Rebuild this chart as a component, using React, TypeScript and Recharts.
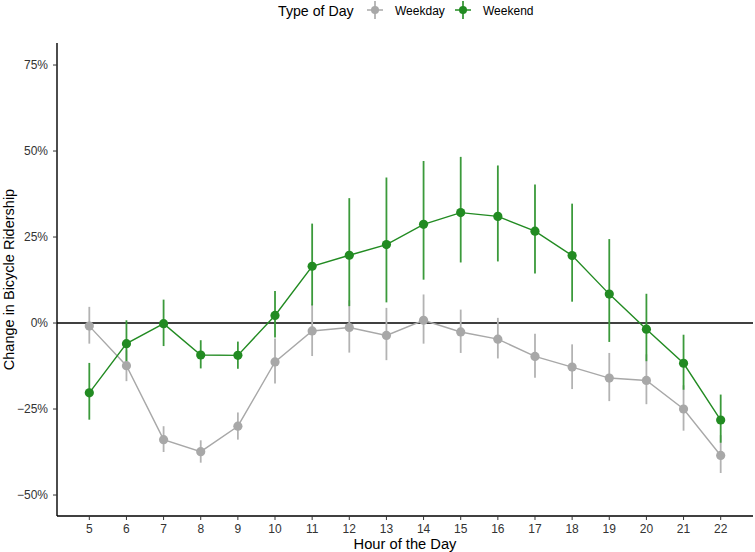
import React from 'react';
import { ComposedChart, Line, XAxis, YAxis, ReferenceLine, ErrorBar } from 'recharts';

const hours = [5, 6, 7, 8, 9, 10, 11, 12, 13, 14, 15, 16, 17, 18, 19, 20, 21, 22];

const weekday = [-0.9, -12.4, -33.9, -37.4, -30.0, -11.3, -2.3, -1.3, -3.6, 0.8, -2.6, -4.7, -9.7, -12.8, -16.0, -16.7, -25.0, -38.5];
const weekdayLow = [-6.0, -16.9, -37.5, -40.6, -33.9, -17.6, -9.6, -8.6, -10.8, -6.0, -8.7, -10.3, -15.9, -19.2, -22.7, -23.6, -31.3, -43.6];
const weekdayHigh = [4.7, -7.9, -30.0, -34.1, -26.0, -4.5, 5.6, 6.6, 4.4, 8.3, 3.9, 1.5, -3.1, -6.2, -8.7, -9.1, -18.1, -32.6];

const weekend = [-20.3, -6.0, -0.2, -9.3, -9.4, 2.2, 16.5, 19.7, 22.8, 28.7, 32.1, 31.0, 26.7, 19.6, 8.4, -1.8, -11.7, -28.2];
const weekendLow = [-28.1, -11.3, -6.7, -13.2, -13.3, -4.2, 5.1, 4.9, 6.0, 12.6, 17.6, 17.9, 14.4, 6.2, -5.5, -11.1, -19.4, -34.8];
const weekendHigh = [-11.6, 0.8, 6.8, -5.0, -5.4, 9.3, 28.9, 36.3, 42.3, 47.1, 48.3, 45.8, 40.3, 34.7, 24.4, 8.5, -3.4, -20.8];

const yTicks = [-50, -25, 0, 25, 50, 75];

const GRAY = '#a8a8a8';
const GREEN = '#228b22';
const FONT = '"Liberation Sans", Arial, Helvetica, sans-serif';

// ErrorBar wants offsets from the value, so turn the bounds into [below, above]
const data = hours.map((h, i) => ({
  hour: h,
  weekday: weekday[i],
  weekdayErr: [weekday[i] - weekdayLow[i], weekdayHigh[i] - weekday[i]],
  weekend: weekend[i],
  weekendErr: [weekend[i] - weekendLow[i], weekendHigh[i] - weekend[i]],
}));

function LegendKey({ x, color }: { x: number; color: string }) {
  return (
    <g>
      <line x1={x - 8} x2={x + 8} y1={10} y2={10} stroke={color} strokeWidth={1.5} />
      <line x1={x} x2={x} y1={1} y2={19} stroke={color} strokeWidth={1.6} />
      <circle cx={x} cy={10} r={4} fill={color} />
    </g>
  );
}

function TopLegend() {
  return (
    <svg width={755} height={24} style={{ position: 'absolute', left: 0, top: 0 }}>
      <text x={278} y={16} fontSize={14.2} fill="#000" fontFamily={FONT}>
        Type of Day
      </text>
      <LegendKey x={375} color={GRAY} />
      <text x={395} y={15} fontSize={12} fill="#000" fontFamily={FONT}>
        Weekday
      </text>
      <LegendKey x={463} color={GREEN} />
      <text x={483} y={15} fontSize={12} fill="#000" fontFamily={FONT}>
        Weekend
      </text>
    </svg>
  );
}

function YTitle(props: any) {
  const vb = props.viewBox || { x: 0, y: 43, width: 57, height: 473 };
  const cy = vb.y + vb.height / 2;
  return (
    <text x={14} y={cy} transform={`rotate(-90, 14, ${cy})`} textAnchor="middle" fontSize={14.5} fill="#000" fontFamily={FONT}>
      Change in Bicycle Ridership
    </text>
  );
}

const pct = (v: number) => (v < 0 ? `\u2212${Math.abs(v)}%` : `${v}%`);

export default function App() {
  return (
    <div style={{ position: 'absolute', left: 0, top: 0, width: 755, height: 552, background: '#fff', fontFamily: FONT }}>
      <ComposedChart width={755} height={552} data={data} margin={{ top: 43, right: 2, bottom: 0, left: 0 }}>
        <XAxis
          dataKey="hour"
          type="number"
          domain={[4.13, 22.87]}
          ticks={hours}
          allowDataOverflow
          height={36}
          axisLine={{ stroke: '#000', strokeWidth: 1.4 }}
          tickLine={{ stroke: '#333' }}
          tickSize={4}
          tickMargin={4}
          tick={{ fontSize: 12, fill: '#333', fontFamily: FONT }}
          label={{ value: 'Hour of the Day', position: 'insideBottom', offset: 3, fontSize: 14.7, fill: '#000', fontFamily: FONT }}
        />
        <YAxis
          type="number"
          domain={[-56.1, 81.4]}
          ticks={yTicks}
          allowDataOverflow
          width={57}
          axisLine={{ stroke: '#000', strokeWidth: 1.4 }}
          tickLine={{ stroke: '#333' }}
          tickSize={4}
          tickMargin={5}
          tickFormatter={pct}
          tick={{ fontSize: 12, fill: '#333', fontFamily: FONT }}
          label={<YTitle />}
        />
        <ReferenceLine y={0} stroke="#000" strokeWidth={1.3} />
        <Line
          dataKey="weekday"
          type="linear"
          stroke={GRAY}
          strokeWidth={1.4}
          dot={{ r: 4.6, fill: GRAY, stroke: 'none' }}
          activeDot={false}
          isAnimationActive={false}
          name="Weekday"
        >
          <ErrorBar dataKey="weekdayErr" direction="y" width={0} stroke="#b3b3b3" strokeWidth={1.8} isAnimationActive={false} />
        </Line>
        <Line
          dataKey="weekend"
          type="linear"
          stroke={GREEN}
          strokeWidth={1.4}
          dot={{ r: 4.6, fill: GREEN, stroke: 'none' }}
          activeDot={false}
          isAnimationActive={false}
          name="Weekend"
        >
          <ErrorBar dataKey="weekendErr" direction="y" width={0} stroke="#3b9a3b" strokeWidth={1.8} isAnimationActive={false} />
        </Line>
      </ComposedChart>
      <TopLegend />
    </div>
  );
}
